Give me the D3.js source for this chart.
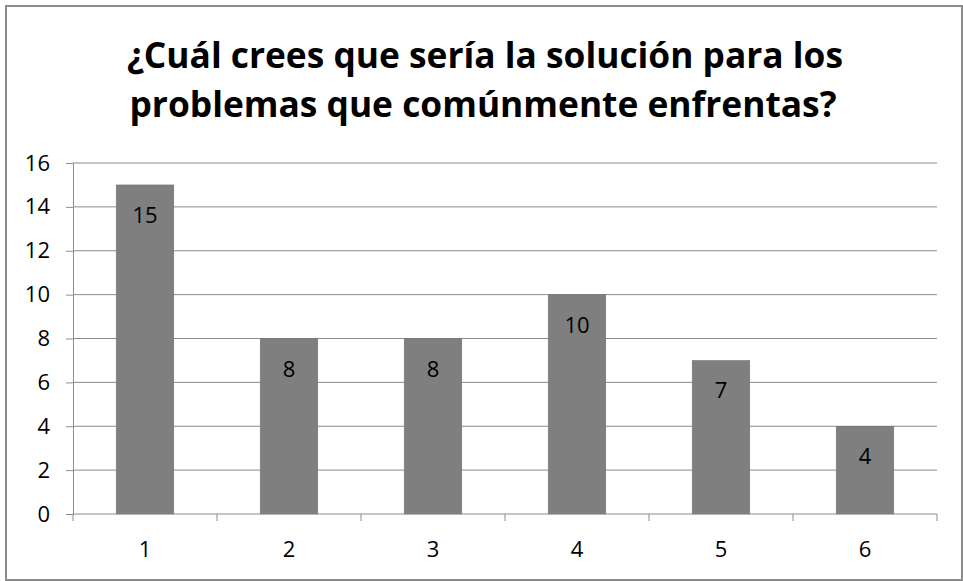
<!DOCTYPE html>
<html>
<head>
<meta charset="utf-8">
<script src="https://cdn.jsdelivr.net/npm/d3@7"></script>
<style>
  body { margin: 0; background: #fff; }
  text { font-family: "Open Sans", "Noto Sans", sans-serif; }
</style>
</head>
<body>
<div id="chart"></div>
<script>
var categories = ["1", "2", "3", "4", "5", "6"];
var values = [15, 8, 8, 10, 7, 4];
var yTicks = [0, 2, 4, 6, 8, 10, 12, 14, 16];
var titleLines = ["¿Cuál crees que sería la solución para los", "problemas que comúnmente enfrentas?"];

var width = 963,
  height = 581;
var margin = { top: 163, left: 73, right: 26, bottom: 67 };

var svg = d3.select("#chart")
  .append("svg")
  .attr("width", width)
  .attr("height", height);

// outer frame
svg.append("rect")
  .attr("x", 6).attr("y", 6)
  .attr("width", 956).attr("height", 574)
  .attr("fill", "#fff")
  .attr("stroke", "#8c8c8c")
  .attr("stroke-width", 2);

var x = d3.scaleBand()
  .domain(categories)
  .range([margin.left, width - margin.right])
  .paddingInner(0.6)
  .paddingOuter(0.3);

var y = d3.scaleLinear()
  .domain([0, 16])
  .range([height - margin.bottom, margin.top]);

// gridlines
svg.append("g")
  .selectAll("line")
  .data(yTicks.filter(function (d) { return d > 0; }))
  .enter().append("line")
  .attr("x1", margin.left).attr("x2", width - margin.right)
  .attr("y1", function (d) { return y(d); })
  .attr("y2", function (d) { return y(d); })
  .attr("stroke", "#8c8c8c")
  .attr("stroke-width", 1);

// bars
svg.append("g")
  .selectAll("rect")
  .data(values)
  .enter().append("rect")
  .attr("x", function (d, i) { return x(categories[i]); })
  .attr("y", function (d) { return y(d); })
  .attr("width", x.bandwidth())
  .attr("height", function (d) { return y(0) - y(d); })
  .attr("fill", "#7f7f7f")
  .attr("stroke", "#6f6f6f")
  .attr("stroke-width", 0.5);

// data labels
svg.append("g")
  .selectAll("text")
  .data(values)
  .enter().append("text")
  .attr("x", function (d, i) { return x(categories[i]) + x.bandwidth() / 2; })
  .attr("y", function (d) { return y(d) + 38; })
  .attr("text-anchor", "middle")
  .attr("font-size", 22)
  .attr("fill", "#000")
  .text(function (d) { return d; });

// y axis
var yAxis = svg.append("g")
  .attr("transform", "translate(" + margin.left + ",0)")
  .call(d3.axisLeft(y).tickValues(yTicks).tickSize(7).tickPadding(16));
yAxis.selectAll("text").attr("font-size", 22).attr("fill", "#000")
  .style("font-family", "'Open Sans', sans-serif");
yAxis.select(".domain").attr("stroke", "#8c8c8c");
yAxis.selectAll(".tick line").attr("stroke", "#8c8c8c");

// x axis with ticks at category boundaries
var x0 = d3.scaleLinear().domain([0, 6]).range([margin.left, width - margin.right]);
var xAxis = svg.append("g")
  .attr("transform", "translate(0," + y(0) + ")");
xAxis.append("line")
  .attr("x1", margin.left).attr("x2", width - margin.right)
  .attr("stroke", "#8c8c8c");
xAxis.selectAll("line.tick")
  .data(d3.range(0, 7))
  .enter().append("line")
  .attr("class", "tick")
  .attr("x1", function (d) { return x0(d); })
  .attr("x2", function (d) { return x0(d); })
  .attr("y1", 0).attr("y2", 7)
  .attr("stroke", "#8c8c8c");
xAxis.selectAll("text")
  .data(categories)
  .enter().append("text")
  .attr("x", function (d) { return x(d) + x.bandwidth() / 2; })
  .attr("y", 43)
  .attr("text-anchor", "middle")
  .attr("font-size", 22)
  .text(function (d) { return d; });

// title
svg.append("text")
  .attr("x", 485).attr("y", 68)
  .attr("text-anchor", "middle")
  .attr("font-size", 35)
  .attr("font-weight", "bold")
  .attr("textLength", 716)
  .attr("lengthAdjust", "spacingAndGlyphs")
  .text(titleLines[0]);
svg.append("text")
  .attr("x", 483).attr("y", 117)
  .attr("text-anchor", "middle")
  .attr("font-size", 35)
  .attr("font-weight", "bold")
  .attr("textLength", 707)
  .attr("lengthAdjust", "spacingAndGlyphs")
  .text(titleLines[1]);
</script>
</body>
</html>
